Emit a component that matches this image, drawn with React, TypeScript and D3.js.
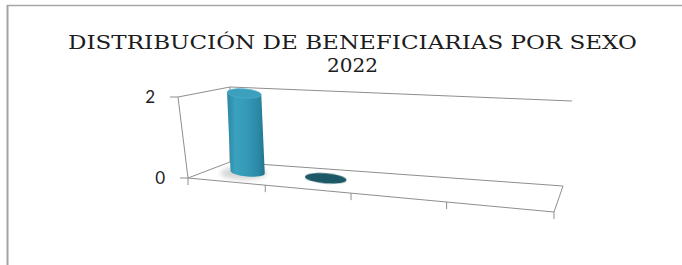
import React from "react";
import * as d3 from "d3";

const titleLines = ["DISTRIBUCIÓN DE BENEFICIARIAS POR SEXO", "2022"];
const categories = ["c1", "c2", "c3", "c4"];
const values: (number | null)[] = [2, 0, null, null];
const yTicks = [0, 2];
const yMax = 2;

const W = 682;
const H = 265;

// screen position of the floor corners, a depth weight for each, and the
// vector that goes from the floor up to the top of the walls at that corner
const corners = [
  { key: "fl", p: [188, 178], z: 1, up: [-10, -81] },
  { key: "fr", p: [554, 212], z: 0.803, up: [-1, -91] },
  { key: "bl", p: [230, 162], z: 1.15, up: [0, -75] },
  { key: "br", p: [563, 186], z: 0.953, up: [9, -85] },
];

// u: 0..1 left to right, w: 0..1 front to back, h: 0..1 of the value axis
function project(u: number, w: number, h: number): [number, number] {
  const f = [(1 - u) * (1 - w), u * (1 - w), (1 - u) * w, u * w];
  let s = 0, x = 0, y = 0, ux = 0, uy = 0;
  corners.forEach((c, i) => {
    const k = f[i] * c.z;
    s += k;
    x += k * c.p[0];
    y += k * c.p[1];
    ux += k * c.up[0];
    uy += k * c.up[1];
  });
  return [x / s + (h * ux) / s, y / s + (h * uy) / s];
}

const xScale = d3.scaleBand<string>().domain(categories).range([0, 1]);
const yScale = d3.scaleLinear().domain([0, yMax]).range([0, 1]);
const line = d3.line();

const barDepth = 0.52; // bars sit half way back on the floor
const radU = 0.23; // share of the band
const radW = 0.27;

function Cylinder({ cat, value }: { cat: string; value: number }) {
  const bw = xScale.bandwidth();
  const u0 = (xScale(cat) as number) + bw / 2;
  const ru = bw * radU;
  const h = yScale(value);
  const left = project(u0 - ru, barDepth, 0);
  const right = project(u0 + ru, barDepth, 0);
  const front = project(u0, barDepth - radW, 0);
  const back = project(u0, barDepth + radW, 0);
  const base = project(u0, barDepth, 0);
  const top = project(u0, barDepth, h);
  const rx = Math.hypot(right[0] - left[0], right[1] - left[1]) / 2;
  const ry = Math.abs(front[1] - back[1]) / 2;
  const ang = (Math.atan2(right[1] - left[1], right[0] - left[0]) * 180) / Math.PI;
  const ca = Math.cos((ang * Math.PI) / 180);
  const sa = Math.sin((ang * Math.PI) / 180);
  const bL = [base[0] - rx * ca, base[1] - rx * sa];
  const bR = [base[0] + rx * ca, base[1] + rx * sa];
  const tL = [top[0] - rx * ca, top[1] - rx * sa];
  const tR = [top[0] + rx * ca, top[1] + rx * sa];

  if (value === 0) {
    // a zero value leaves only the flat base of the cylinder
    return (
      <ellipse
        cx={base[0]}
        cy={base[1]}
        rx={rx * 1.1}
        ry={ry}
        transform={`rotate(${ang} ${base[0]} ${base[1]})`}
        fill="#1d5866"
        filter="url(#soft)"
      />
    );
  }

  const body =
    `M${bL[0]},${bL[1]} L${tL[0]},${tL[1]} L${tR[0]},${tR[1]} L${bR[0]},${bR[1]}` +
    ` A${rx},${ry} ${ang} 0 1 ${bL[0]},${bL[1]} Z`;

  return (
    <g>
      <ellipse
        cx={base[0] - 4}
        cy={base[1] + 1}
        rx={rx + 6}
        ry={ry + 2}
        fill="#d6d6d6"
        filter="url(#shadow)"
      />
      <path d={body} fill="url(#cylBody)" />
      <ellipse
        cx={top[0]}
        cy={top[1]}
        rx={rx}
        ry={ry}
        transform={`rotate(${ang} ${top[0]} ${top[1]})`}
        fill="#3b9fbd"
        stroke="#55b3cf"
        strokeWidth={0.6}
      />
    </g>
  );
}

export default function App() {
  const fl = project(0, 0, 0);
  const fr = project(1, 0, 0);
  const bl = project(0, 1, 0);
  const br = project(1, 1, 0);
  const flTop = project(0, 0, 1);
  const blTop = project(0, 1, 1);
  const brTop = project(1, 1, 1);

  const walls = [
    line([fl, flTop, blTop, brTop]),
    line([blTop, bl]),
    line([fl, fr, br, bl, fl]),
  ];

  const xTicks = categories.map((c) => xScale(c) as number).concat([1]);

  return (
    <svg
      width={W}
      height={H}
      style={{ position: "absolute", left: 0, top: 0, background: "#fff" }}
    >
      <defs>
        <linearGradient id="cylBody" x1="0" x2="1" y1="0" y2="0">
          <stop offset="0" stopColor="#2a86a3" />
          <stop offset="0.22" stopColor="#3aa1bf" />
          <stop offset="0.55" stopColor="#3499b7" />
          <stop offset="0.85" stopColor="#2a87a3" />
          <stop offset="1" stopColor="#22728b" />
        </linearGradient>
        <filter id="shadow" x="-50%" y="-100%" width="200%" height="300%">
          <feGaussianBlur stdDeviation="2.5" />
        </filter>
        <filter id="soft" x="-20%" y="-50%" width="140%" height="200%">
          <feGaussianBlur stdDeviation="0.7" />
        </filter>
      </defs>

      {/* frame of the chart area */}
      <line x1={7.5} y1={5} x2={7.5} y2={H} stroke="#a3a3a3" strokeWidth={2} />
      <line x1={7} y1={5.5} x2={W} y2={5.5} stroke="#a8a8a8" strokeWidth={1.5} />

      <g fill="none" stroke="#8e8e8e" strokeWidth={1}>
        {walls.map((d, i) => (
          <path key={i} d={d as string} />
        ))}
      </g>

      {/* category ticks along the front edge */}
      <g stroke="#8e8e8e" strokeWidth={1}>
        {xTicks.map((u, i) => {
          const p = project(u, 0, 0);
          return <line key={i} x1={p[0]} y1={p[1]} x2={p[0]} y2={p[1] + 7} />;
        })}
      </g>

      {/* value axis */}
      <g>
        {yTicks.map((v) => {
          const p = project(0, 0, yScale(v));
          return (
            <g key={v}>
              <line x1={p[0] - 8} y1={p[1]} x2={p[0]} y2={p[1]} stroke="#8e8e8e" />
              <text
                x={p[0] - 23}
                y={p[1]}
                dy="0.38em"
                textAnchor="end"
                fontFamily="Lato, sans-serif"
                fontSize={17}
                fill="#222"
              >
                {v}
              </text>
            </g>
          );
        })}
      </g>

      {categories.map((c, i) =>
        values[i] === null ? null : <Cylinder key={c} cat={c} value={values[i] as number} />
      )}

      <g fontFamily="'DejaVu Serif', serif" fontSize={18} fill="#1c1c1c">
        <text x={68} y={49} textLength={569} lengthAdjust="spacingAndGlyphs">
          {titleLines[0]}
        </text>
        <text x={327} y={72} textLength={51} lengthAdjust="spacingAndGlyphs">
          {titleLines[1]}
        </text>
      </g>
    </svg>
  );
}
